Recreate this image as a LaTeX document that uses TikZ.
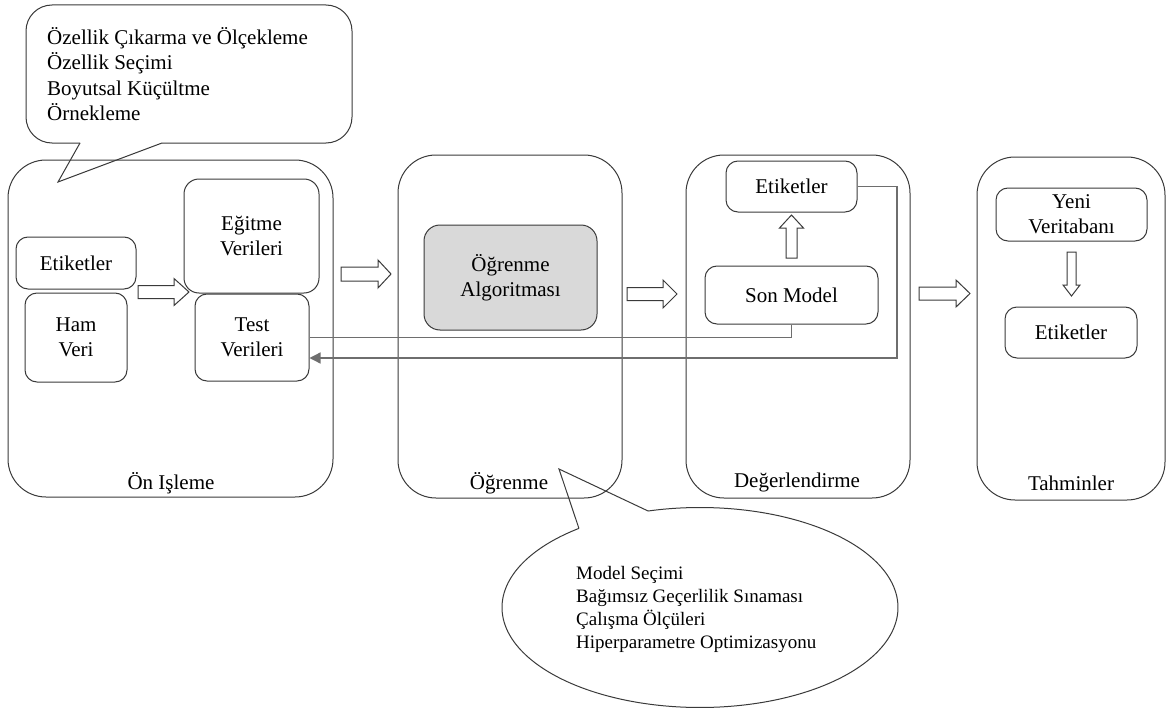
\documentclass[tikz,border=0pt]{standalone}
\usepackage{fontspec}
\setmainfont{Liberation Serif}
\usetikzlibrary{arrows.meta}

\definecolor{edge}{HTML}{3A3A3A}
\definecolor{fbline}{HTML}{6E6E6E}
\definecolor{algofill}{HTML}{D9D9D9}

\tikzset{
  panel/.style={draw=edge, line width=1pt, rounded corners=38pt, inner sep=0pt},
  box/.style={draw=edge, line width=1pt, rounded corners=12pt, align=center,
    inner sep=0pt, font=\fontsize{21}{25}\selectfont},
  lbl/.style={font=\fontsize{21}{25}\selectfont, inner sep=0pt},
  note/.style={align=left, inner sep=0pt, anchor=west},
  fb/.style={draw=fbline, line width=1.3pt},
  blockarrow/.style={draw=edge, line width=1pt, fill=white, line join=miter},
  callout/.style={draw=edge, line width=1pt},
}

% hollow block arrows: right / up / down
\newcommand{\blockright}[6]{% x0, xtip, yc, shaft half, head half, head length
  \draw[blockarrow] (#1,#3-#4) -- (#2-#6,#3-#4) -- (#2-#6,#3-#5) -- (#2,#3)
    -- (#2-#6,#3+#5) -- (#2-#6,#3+#4) -- (#1,#3+#4) -- cycle;}
\newcommand{\blockup}[6]{% xc, ybottom, ytip, shaft half, head half, head length
  \draw[blockarrow] (#1-#4,#2) -- (#1-#4,#3+#6) -- (#1-#5,#3+#6) -- (#1,#3)
    -- (#1+#5,#3+#6) -- (#1+#4,#3+#6) -- (#1+#4,#2) -- cycle;}
\newcommand{\blockdown}[6]{% xc, ytop, ytip, shaft half, head half, head length
  \draw[blockarrow] (#1-#4,#2) -- (#1-#4,#3-#6) -- (#1-#5,#3-#6) -- (#1,#3)
    -- (#1+#5,#3-#6) -- (#1+#4,#3-#6) -- (#1+#4,#2) -- cycle;}

\begin{document}
\begin{tikzpicture}[x=1pt, y=-1pt]
\useasboundingbox (0,0) rectangle (1168,709);

% ---- stage panels ----
\node[panel, minimum width=325pt, minimum height=337pt] (p1) at (170.5,328.5) {};
\node[panel, minimum width=224pt, minimum height=343pt] (p2) at (510,326.5) {};
\node[panel, minimum width=224pt, minimum height=343pt] (p3) at (798,326.5) {};
\node[panel, minimum width=188pt, minimum height=343pt] (p4) at (1071,328.5) {};

\node[lbl] (l1) at (171,483) {Ön Işleme};
\node[lbl] (l2) at (509,483) {Öğrenme};
\node[lbl] (l3) at (797,482) {Değerlendirme};
\node[lbl] (l4) at (1071,483) {Tahminler};

% ---- preprocessing ----
\node[box, minimum width=120pt, minimum height=52pt] (etk1) at (76,263) {Etiketler};
\node[box, minimum width=102pt, minimum height=89pt] (ham) at (76,337.5) {Ham\\Veri};
\node[box, minimum width=135pt, minimum height=114pt, rounded corners=15pt] (egit) at (251.5,236) {Eğitme\\Verileri};
\node[box, minimum width=114pt, minimum height=87pt] (test) at (252,337.5) {Test\\Verileri};

% ---- learning ----
\node[box, fill=algofill, minimum width=173pt, minimum height=105pt, rounded corners=16pt] (algo) at (510.5,277.5) {Öğrenme\\Algoritması};

% ---- evaluation ----
\node[box, minimum width=131pt, minimum height=51pt] (etk2) at (791.5,186.5) {Etiketler};
\node[box, minimum width=173pt, minimum height=58pt] (sonm) at (791.5,295) {Son Model};

% ---- predictions ----
\node[box, minimum width=151pt, minimum height=53pt] (yeni) at (1071.5,214.5) {Yeni\\Veritabanı};
\node[box, minimum width=132pt, minimum height=51pt] (etk3) at (1071,332.5) {Etiketler};

% ---- feedback lines ----
\coordinate (fbturn) at (897,358);
\draw[fb] (sonm.south) |- (test.east);
\draw[fb, -{Triangle[length=11pt, width=11pt]}] (etk2.east) -| (fbturn) -- (test.east |- fbturn);

% ---- block arrows ----
\blockright{138}{189}{292}{6.5}{13.5}{15}
\blockright{341}{391}{274}{7}{14}{13}
\blockright{627}{677}{294}{6.5}{14}{14}
\blockright{919}{970}{293.5}{6.5}{13.5}{14}
\blockup{791.5}{258}{215}{5.5}{12}{13}
\blockdown{1071.5}{252}{296}{4.5}{8.5}{11}

% ---- top callout ----
\draw[callout, rounded corners=26pt] (162,143) -- (352,143) -- (352,5) -- (26,5) -- (26,143) -- (80,143);
\draw[callout, line join=miter] (80,143) -- (58,182) -- (162,143);
\node[note, font=\fontsize{21}{25.5}\selectfont] (prep) at (47,74)
  {Özellik Çıkarma ve Ölçekleme\\Özellik Seçimi\\Boyutsal Küçültme\\Örnekleme};

% ---- bottom callout ----
\coordinate (cl) at ({700+198*cos(232.3)},{607.5+100*sin(232.3)});
\coordinate (cr) at ({700+198*cos(254.8)},{607.5+100*sin(254.8)});
\coordinate (ctip) at (559,469);
\draw[callout] plot[domain=254.8:592.3, samples=240, smooth] ({700+198*cos(\x)},{607.5+100*sin(\x)});
\draw[callout, line join=miter] (cl) -- (ctip) -- (cr);
\node[note, font=\fontsize{19}{23}\selectfont] (learn) at (576,609.5)
  {Model Seçimi\\Bağımsız Geçerlilik Sınaması\\Çalışma Ölçüleri\\Hiperparametre Optimizasyonu};
\end{tikzpicture}
\end{document}
